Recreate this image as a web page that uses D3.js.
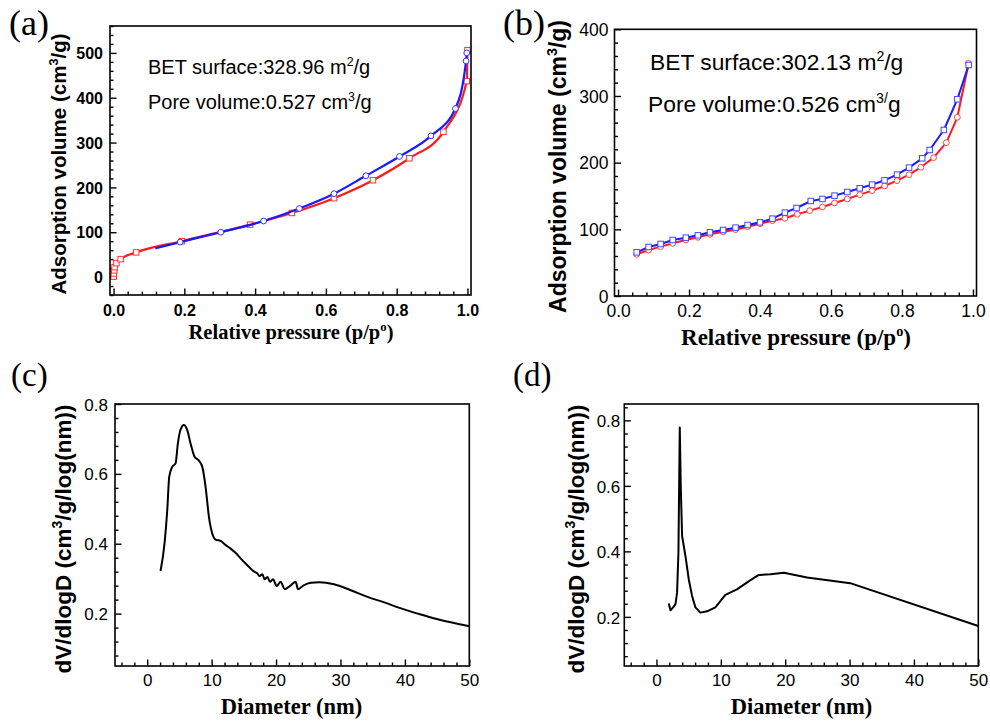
<!DOCTYPE html>
<html>
<head>
<meta charset="utf-8">
<script src="https://cdn.jsdelivr.net/npm/d3@7"></script>
<style>
  html, body { margin: 0; padding: 0; background: #fff; }
  svg { display: block; }
</style>
</head>
<body>
<svg id="chart" width="990" height="724"></svg>
<script>
// ---------------- DATA ----------------
// (a) N2 isotherm, sample 1
const aAdsX = [0.0005, 0.001, 0.002, 0.003, 0.008, 0.02, 0.064, 0.193, 0.386, 0.504, 0.623, 0.733, 0.836, 0.932, 0.998, 1.0];
const aAdsY = [1, 8, 15, 22, 31, 40, 55, 80, 117, 143, 176, 216, 265, 324, 437, 506];
const aDesX = [0.118, 0.188, 0.303, 0.424, 0.525, 0.623, 0.713, 0.808, 0.897, 0.966, 0.996, 0.998];
const aDesY = [64, 78, 100, 125, 153, 186, 226, 269, 315, 376, 482, 500];
const aDesMarked = [false, true, true, true, true, true, true, true, true, true, true, true];

// (b) N2 isotherm, sample 2
const bAdsX = [0.0525, 0.086, 0.12, 0.154, 0.191, 0.225, 0.259, 0.296, 0.331, 0.365, 0.4, 0.435, 0.47, 0.505, 0.54, 0.576, 0.61, 0.646, 0.681, 0.716, 0.751, 0.786, 0.82, 0.853, 0.889, 0.925, 0.956, 0.988];
const bAdsY = [62.5, 69, 74, 79, 84, 88, 92.5, 96.5, 99.5, 104, 108.5, 113, 116.5, 122.5, 128, 133.5, 139.5, 145.5, 152, 158, 165, 173, 182, 193, 207.5, 230, 268, 349];
const bDesX = [0.0525, 0.086, 0.12, 0.154, 0.191, 0.225, 0.259, 0.296, 0.331, 0.365, 0.4, 0.435, 0.47, 0.503, 0.543, 0.576, 0.61, 0.646, 0.681, 0.716, 0.751, 0.786, 0.82, 0.857, 0.878, 0.918, 0.956, 0.988];
const bDesY = [65.5, 73.5, 78, 84, 87.5, 91, 95.5, 99, 102.5, 106.5, 110.5, 116, 125, 132, 142.5, 145.5, 150.5, 156, 161.5, 167, 173.5, 182, 192.5, 206.5, 219, 249, 295, 346.5];

// (c) pore size distribution, sample 1
const cX = [2.07, 2.69, 3.11, 3.42, 3.88, 4.4, 4.76, 5.18, 5.7, 6.22, 6.73, 7.35, 8.03, 8.55, 9.06, 9.58, 10.1, 10.6, 11.4, 12.2, 12.95, 13.7, 14.5, 15.5, 16.6, 17.1, 17.46, 17.87, 18.23, 18.65, 19.06, 19.53, 20.1, 20.7, 21.35, 22.3, 23.05, 23.4, 24.3, 25.4, 26.7, 29.0, 31.6, 34.2, 36.8, 39.4, 42.0, 44.6, 47.1, 50];
const cY = [0.322, 0.401, 0.496, 0.592, 0.620, 0.630, 0.687, 0.727, 0.740, 0.725, 0.687, 0.649, 0.638, 0.620, 0.563, 0.477, 0.429, 0.412, 0.408, 0.396, 0.386, 0.374, 0.358, 0.339, 0.320, 0.315, 0.307, 0.313, 0.298, 0.305, 0.291, 0.298, 0.279, 0.291, 0.270, 0.281, 0.291, 0.270, 0.281, 0.288, 0.290, 0.284, 0.267, 0.248, 0.232, 0.215, 0.200, 0.186, 0.175, 0.164];

// (d) pore size distribution, sample 2
const dX = [1.91, 2.17, 2.59, 2.95, 3.2, 3.41, 3.52, 3.62, 3.77, 3.98, 4.5, 5.01, 5.53, 6.05, 6.82, 7.86, 9.15, 10.7, 12.5, 14.6, 15.9, 17.7, 19.8, 23.4, 30.1, 50];
const dY = [0.241, 0.220, 0.229, 0.239, 0.274, 0.396, 0.6, 0.778, 0.6, 0.447, 0.386, 0.315, 0.264, 0.229, 0.213, 0.217, 0.229, 0.267, 0.284, 0.312, 0.328, 0.330, 0.335, 0.320, 0.303, 0.172];

// tick values
const isoXTicks = [0, 0.2, 0.4, 0.6, 0.8, 1.0];
const aYTicks = [0, 100, 200, 300, 400, 500];
const bYTicks = [0, 100, 200, 300, 400];
const psdXTicks = [0, 10, 20, 30, 40, 50];
const cYTicks = [0.2, 0.4, 0.6, 0.8];
const dYTicks = [0.2, 0.4, 0.6, 0.8];

// ---------------- DRAWING ----------------
const svg = d3.select("#chart");
const SANS = "'Liberation Sans', Arial, sans-serif";
const SERIF = "'Liberation Serif', 'Times New Roman', serif";

function range(a, b, s) {
  const out = [];
  const n = Math.round((b - a) / s);
  for (let i = 0; i <= n; i++) out.push(+(a + i * s).toFixed(6));
  return out;
}

function rich(textSel, parts, fs) {
  const shift = fs * 0.4;
  let prevSup = false;
  parts.forEach(p => {
    const sup = typeof p !== "string";
    const t = textSel.append("tspan").text(sup ? p.sup : p);
    if (sup) {
      t.attr("font-size", fs * 0.62).attr("dy", -shift);
    } else if (prevSup) {
      t.attr("dy", shift);
    }
    prevSup = sup;
  });
}

function panel(cfg) {
  const g = svg.append("g");
  const x = d3.scaleLinear().domain(cfg.xDomain).range([cfg.left, cfg.right]);
  const y = d3.scaleLinear().domain(cfg.yDomain).range([cfg.bottom, cfg.top]);

  // minor ticks
  const xMinor = range(cfg.xMinor[0], cfg.xMinor[1], cfg.xMinor[2]).filter(v => !cfg.xTicks.some(t => Math.abs(t - v) < 1e-9));
  const yMinor = range(cfg.yMinor[0], cfg.yMinor[1], cfg.yMinor[2]).filter(v => !cfg.yTicks.some(t => Math.abs(t - v) < 1e-9));

  const gxm = g.append("g").attr("transform", `translate(0,${cfg.bottom})`)
    .call(d3.axisBottom(x).tickValues(xMinor).tickSize(-3.5).tickFormat(""));
  const gym = g.append("g").attr("transform", `translate(${cfg.left},0)`)
    .call(d3.axisLeft(y).tickValues(yMinor).tickSize(-3.5).tickFormat(""));
  const gx = g.append("g").attr("transform", `translate(0,${cfg.bottom})`)
    .call(d3.axisBottom(x).tickValues(cfg.xTicks).tickSize(-6.5).tickFormat(cfg.xFmt));
  const gy = g.append("g").attr("transform", `translate(${cfg.left},0)`)
    .call(d3.axisLeft(y).tickValues(cfg.yTicks).tickSize(-6.5).tickFormat(cfg.yFmt));
  [gxm, gym, gx, gy].forEach(a => {
    a.select(".domain").remove();
    a.selectAll("line").attr("stroke", "#000").attr("stroke-width", 1.4);
  });
  [gx, gy].forEach(a => a.selectAll("text")
    .attr("fill", "#000")
    .attr("font-family", SANS)
    .attr("font-size", cfg.tickFs)
    .attr("font-weight", cfg.tickBold ? "bold" : "normal"));
  gx.selectAll("text").attr("y", cfg.xLabOff).attr("dy", 0);
  gy.selectAll("text").attr("x", -cfg.yLabOff).attr("dy", "0.36em");

  // series
  cfg.series.forEach(s => {
    const pts = s.x.map((v, i) => [v, s.y[i], s.marked ? s.marked[i] : true]);
    const line = d3.line().x(d => x(d[0])).y(d => y(d[1])).curve(s.curve || d3.curveLinear);
    g.append("path").datum(pts)
      .attr("fill", "none").attr("stroke", s.color).attr("stroke-width", s.width)
      .attr("stroke-linejoin", "round")
      .attr("d", line);
    if (s.marker === "square") {
      g.selectAll(null).data(pts.filter(d => d[2])).enter().append("rect")
        .attr("x", d => x(d[0]) - s.size / 2).attr("y", d => y(d[1]) - s.size / 2)
        .attr("width", s.size).attr("height", s.size)
        .attr("fill", "#fff").attr("stroke", s.mcolor).attr("stroke-width", 1);
    } else if (s.marker === "circle") {
      g.selectAll(null).data(pts.filter(d => d[2])).enter().append("circle")
        .attr("cx", d => x(d[0])).attr("cy", d => y(d[1])).attr("r", s.size / 2)
        .attr("fill", "#fff").attr("stroke", s.mcolor).attr("stroke-width", 1);
    }
  });

  // frame
  g.append("rect")
    .attr("x", cfg.left).attr("y", cfg.top)
    .attr("width", cfg.right - cfg.left).attr("height", cfg.bottom - cfg.top)
    .attr("fill", "none").attr("stroke", "#000").attr("stroke-width", 1.6);

  // axis titles
  const xt = g.append("text")
    .attr("x", cfg.xTitlePos[0]).attr("y", cfg.xTitlePos[1])
    .attr("text-anchor", "middle")
    .attr("font-family", SERIF).attr("font-weight", "bold")
    .attr("font-size", cfg.xTitleFs).attr("fill", "#000");
  rich(xt, cfg.xTitle, cfg.xTitleFs);

  const yt = g.append("text")
    .attr("transform", `translate(${cfg.yTitlePos[0]},${cfg.yTitlePos[1]}) rotate(-90)`)
    .attr("text-anchor", "middle")
    .attr("font-family", SANS).attr("font-weight", "bold")
    .attr("font-size", cfg.yTitleFs).attr("fill", "#000");
  rich(yt, cfg.yTitle, cfg.yTitleFs);

  // panel letter
  g.append("text")
    .attr("x", cfg.letterPos[0]).attr("y", cfg.letterPos[1])
    .attr("font-family", SERIF).attr("font-size", cfg.letterFs).attr("fill", "#000")
    .text(cfg.letter);

  // annotations
  (cfg.notes || []).forEach(n => {
    const t = g.append("text").attr("x", n.x).attr("y", n.y)
      .attr("font-family", SANS).attr("font-size", n.fs).attr("fill", "#000");
    rich(t, n.parts, n.fs);
  });
}

const fmt1 = d3.format(".1f");
const fmt0 = d3.format("d");
const isoXTitle = ["Relative pressure (p/p", {sup: "o"}, ")"];
const isoYTitle = ["Adsorption volume (cm", {sup: "3"}, "/g)"];
const psdXTitle = ["Diameter (nm)"];
const psdYTitle = ["dV/dlogD (cm", {sup: "3"}, "/g/log(nm))"];

panel({
  left: 110, right: 471, top: 26, bottom: 295,
  xDomain: [-0.01, 1.01], yDomain: [-40, 560],
  xTicks: isoXTicks, yTicks: aYTicks, xFmt: fmt1, yFmt: fmt0,
  xMinor: [0, 1, 0.04], yMinor: [-40, 560, 20],
  tickFs: 16, tickBold: true, xLabOff: 21, yLabOff: 7,
  series: [
    {x: aAdsX, y: aAdsY, color: "#ff1a1a", mcolor: "#ff3333", width: 2.2, marker: "square", size: 5.5, curve: d3.curveMonotoneX},
    {x: aDesX, y: aDesY, marked: aDesMarked, color: "#1a1aff", mcolor: "#3333ff", width: 2.2, marker: "circle", size: 5.8, curve: d3.curveMonotoneX}
  ],
  xTitle: isoXTitle, xTitlePos: [291, 339], xTitleFs: 20.5,
  yTitle: isoYTitle, yTitlePos: [66, 164], yTitleFs: 20.5,
  letter: "(a)", letterPos: [9, 35], letterFs: 36,
  notes: [
    {x: 148, y: 74, fs: 20, parts: ["BET surface:328.96 m", {sup: "2"}, "/g"]},
    {x: 148, y: 109, fs: 20, parts: ["Pore volume:0.527 cm", {sup: "3"}, "/g"]}
  ]
});

panel({
  left: 614.5, right: 976.5, top: 29.3, bottom: 296,
  xDomain: [-0.01, 1.01], yDomain: [0, 400],
  xTicks: isoXTicks, yTicks: bYTicks, xFmt: fmt1, yFmt: fmt0,
  xMinor: [0, 1, 0.04], yMinor: [0, 400, 20],
  tickFs: 17.5, tickBold: false, xLabOff: 21, yLabOff: 6,
  series: [
    {x: bAdsX, y: bAdsY, color: "#ff1a1a", mcolor: "#ff4444", width: 2, marker: "circle", size: 5.8},
    {x: bDesX, y: bDesY, color: "#1a1aff", mcolor: "#4444ff", width: 2, marker: "square", size: 5.5}
  ],
  xTitle: isoXTitle, xTitlePos: [796, 345], xTitleFs: 23,
  yTitle: isoYTitle, yTitlePos: [566, 166.5], yTitleFs: 23,
  letter: "(b)", letterPos: [503, 35], letterFs: 36,
  notes: [
    {x: 650, y: 70, fs: 22.8, parts: ["BET surface:302.13 m", {sup: "2"}, "/g"]},
    {x: 648, y: 112, fs: 22.8, parts: ["Pore volume:0.526 cm", {sup: "3/"}, "g"]}
  ]
});

panel({
  left: 115, right: 469.3, top: 404, bottom: 666,
  xDomain: [-5, 50], yDomain: [0.05, 0.8],
  xTicks: psdXTicks, yTicks: cYTicks, xFmt: fmt0, yFmt: fmt1,
  xMinor: [-4, 50, 2], yMinor: [0.08, 0.8, 0.04],
  tickFs: 17, tickBold: false, xLabOff: 20, yLabOff: 7,
  series: [
    {x: cX, y: cY, color: "#000", width: 2, marker: null, curve: d3.curveMonotoneX}
  ],
  xTitle: psdXTitle, xTitlePos: [291.5, 714], xTitleFs: 22.5,
  yTitle: psdYTitle, yTitlePos: [71, 539], yTitleFs: 22.5,
  letter: "(c)", letterPos: [11, 386], letterFs: 33,
  notes: []
});

panel({
  left: 624.3, right: 978.3, top: 404, bottom: 666,
  xDomain: [-5, 50], yDomain: [0.05, 0.85],
  xTicks: psdXTicks, yTicks: dYTicks, xFmt: fmt0, yFmt: fmt1,
  xMinor: [-4, 50, 2], yMinor: [0.08, 0.84, 0.04],
  tickFs: 17, tickBold: false, xLabOff: 20, yLabOff: 4,
  series: [
    {x: dX, y: dY, color: "#000", width: 2, marker: null, curve: d3.curveLinear}
  ],
  xTitle: psdXTitle, xTitlePos: [801.5, 714], xTitleFs: 22.5,
  yTitle: psdYTitle, yTitlePos: [584, 539], yTitleFs: 22.5,
  letter: "(d)", letterPos: [513, 386], letterFs: 33,
  notes: []
});
</script>
</body>
</html>
